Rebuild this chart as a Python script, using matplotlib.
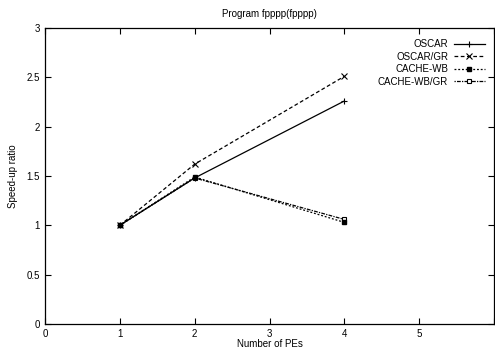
import matplotlib.pyplot as plt

pes = [1, 2, 4]
oscar = [1.0, 1.48, 2.26]
oscar_gr = [1.0, 1.62, 2.51]
cache_wb = [1.0, 1.49, 1.03]
cache_wb_gr = [1.0, 1.48, 1.06]

plt.rcParams['font.family'] = ['Liberation Sans', 'DejaVu Sans']
plt.rcParams['font.size'] = 7

fig = plt.figure(figsize=(4.95, 3.57), dpi=100)
ax = fig.add_axes([45 / 495, 1 - 324 / 357, 449 / 495, 296 / 357])

ax.plot(pes, oscar, color='black', lw=0.9, ls='-', marker='+', ms=5, mew=0.8, label='OSCAR')
ax.plot(pes, oscar_gr, color='black', lw=0.9, ls=(0, (3, 2)), marker='x', ms=4, mew=0.8, label='OSCAR/GR')
ax.plot(pes, cache_wb, color='black', lw=0.9, ls=(0, (1.5, 1.5)), marker='s', ms=3.5,
        label='CACHE-WB', zorder=4)
ax.plot(pes, cache_wb_gr, color='black', lw=0.9, ls=(0, (1, 1, 3, 1)), marker='s', ms=3.5,
        mfc='white', mew=0.8, label='CACHE-WB/GR', zorder=3)

ax.set_xlim(0, 6)
ax.set_ylim(0, 3)
ax.set_xticks([0, 1, 2, 3, 4, 5, 6])
ax.set_xticklabels(['0', '1', '2', '3', '4', '5', ''])
ax.set_yticks([0, 0.5, 1, 1.5, 2, 2.5, 3])
ax.set_yticklabels(['0', '0.5', '1', '1.5', '2', '2.5', '3'])
ax.tick_params(direction='in', top=True, right=True, length=4, width=0.8, labelsize=7)
for s in ax.spines.values():
    s.set_linewidth(0.9)

ax.set_title('Program fpppp(fpppp)', fontsize=7, pad=8)
ax.set_xlabel('Number of PEs', fontsize=7, labelpad=0)
ax.set_ylabel('Speed-up ratio', fontsize=7, labelpad=6)

ax.legend(loc='upper right', frameon=False, markerfirst=False, fontsize=7,
          handlelength=3.2, handletextpad=0.6, labelspacing=0.25,
          borderaxespad=0.3, bbox_to_anchor=(0.995, 0.985))

fig.savefig('out.png', dpi=100)
